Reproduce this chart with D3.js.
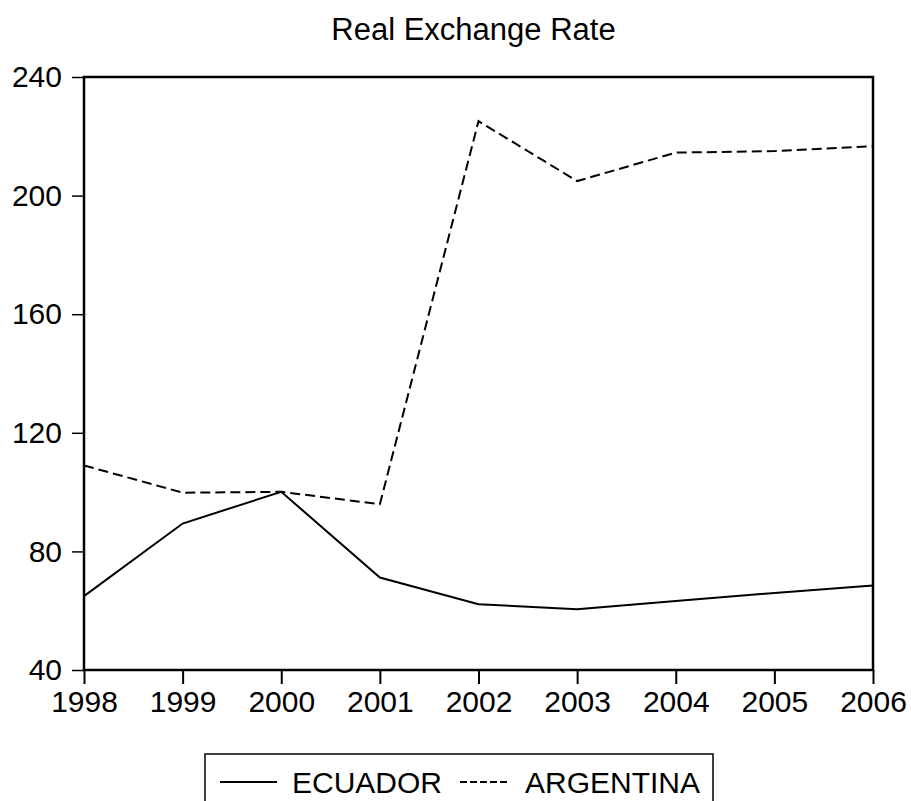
<!DOCTYPE html>
<html>
<head>
<meta charset="utf-8">
<script src="https://cdn.jsdelivr.net/npm/d3@7"></script>
<style>
  body { margin: 0; background: #fff; }
  svg text { font-family: "Liberation Sans", Arial, Helvetica, sans-serif; fill: #000; }
</style>
</head>
<body>
<div id="chart"></div>
<script>
// data
const years = [1998, 1999, 2000, 2001, 2002, 2003, 2004, 2005, 2006];
const ecuador = [64.9, 89.4, 100.1, 71.2, 62.2, 60.5, 63.3, 66.0, 68.5];
const argentina = [109.0, 99.8, 100.1, 95.9, 225.1, 204.9, 214.5, 215.0, 216.7];
const yTicks = [40, 80, 120, 160, 200, 240];
const title = "Real Exchange Rate";

const size = {width: 911, height: 801};
const margin = {top: 77, right: 38, bottom: 131, left: 84};
const width = size.width - margin.left - margin.right;
const height = size.height - margin.top - margin.bottom;

const svg = d3.select("#chart").append("svg")
    .attr("width", size.width)
    .attr("height", size.height);

const g = svg.append("g")
    .attr("transform", "translate(" + margin.left + "," + margin.top + ")");

const xScale = d3.scaleLinear().domain([1998, 2006]).range([0, width]);
const yScale = d3.scaleLinear().domain([40, 240]).range([height, 0]);

// title
svg.append("text")
    .attr("x", margin.left + width / 2 - 5)
    .attr("y", 40)
    .attr("text-anchor", "middle")
    .style("font-size", "31px")
    .text(title);

// axes
const xAxis = d3.axisBottom(xScale)
    .tickValues(years)
    .tickFormat(d3.format("d"))
    .tickSize(14)
    .tickSizeOuter(0)
    .tickPadding(7);
const yAxis = d3.axisLeft(yScale)
    .tickValues(yTicks)
    .tickSize(12)
    .tickSizeOuter(0)
    .tickPadding(10);

const xAxisG = g.append("g")
    .attr("transform", "translate(0," + height + ")")
    .call(xAxis);
const yAxisG = g.append("g").call(yAxis);

[xAxisG, yAxisG].forEach(a => {
    a.select(".domain").remove();
    a.selectAll(".tick line").attr("stroke", "#000").attr("stroke-width", 1.5);
    a.selectAll(".tick text")
        .style("font-size", "30px")
        .style("font-family", "'Liberation Sans', Arial, Helvetica, sans-serif")
        .attr("fill", "#000");
});
xAxisG.selectAll(".tick line").attr("stroke-width", 2);

// frame
g.append("rect")
    .attr("x", 0).attr("y", 0)
    .attr("width", width).attr("height", height)
    .attr("fill", "none")
    .attr("stroke", "#000")
    .attr("stroke-width", 2.5);

// lines
const line = d3.line()
    .x((d, i) => xScale(years[i]))
    .y(d => yScale(d));

g.append("path")
    .datum(ecuador)
    .attr("d", line)
    .attr("fill", "none")
    .attr("stroke", "#000")
    .attr("stroke-width", 2);

g.append("path")
    .datum(argentina)
    .attr("d", line)
    .attr("fill", "none")
    .attr("stroke", "#000")
    .attr("stroke-width", 2)
    .attr("stroke-dasharray", "10,5");

// legend
const legend = svg.append("g").attr("class", "legend");
legend.append("rect")
    .attr("x", 205).attr("y", 754)
    .attr("width", 508).attr("height", 80)
    .attr("fill", "none")
    .attr("stroke", "#000")
    .attr("stroke-width", 1.5);

const legendItems = [
    {name: "ECUADOR", x: 220, dash: null},
    {name: "ARGENTINA", x: 460, dash: "7,3"}
];
legendItems.forEach(item => {
    legend.append("line")
        .attr("x1", item.x).attr("x2", item.x + 57 - (item.dash ? 10 : 0))
        .attr("y1", 782).attr("y2", 782)
        .attr("stroke", "#000")
        .attr("stroke-width", 2)
        .attr("stroke-dasharray", item.dash);
    legend.append("text")
        .attr("x", item.dash ? 525 : 292)
        .attr("y", 793)
        .style("font-size", "30px")
        .text(item.name);
});
</script>
</body>
</html>
